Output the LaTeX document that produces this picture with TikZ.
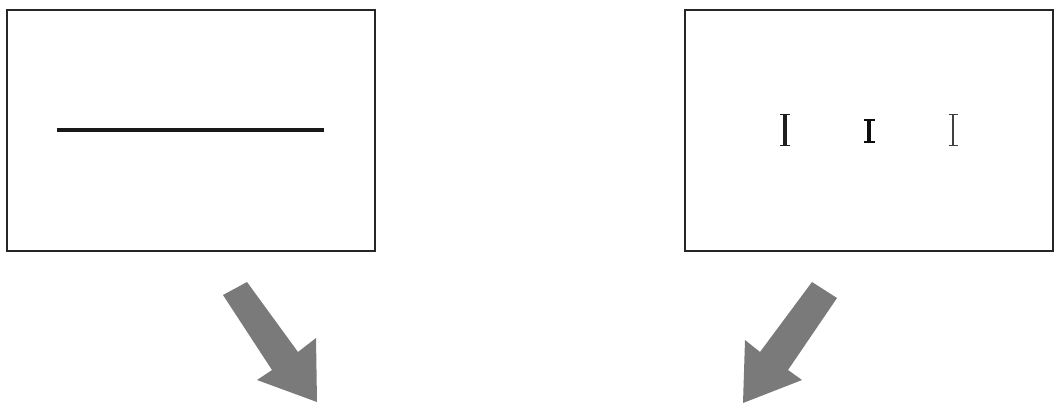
\documentclass[tikz,border=0pt]{standalone}
\begin{document}
\begin{tikzpicture}[x=1pt,y=-1pt,
  frame/.style={draw=black!85,line width=2.6pt},
  stim/.style={draw=black!90,line width=3.4pt},
  blockarrow/.style={fill=black!52,draw=none}]
\useasboundingbox (0,0) rectangle (1056,410);
% left box
\draw[frame] (7,10) rectangle (375,251);
\coordinate (la) at (57,130);
\coordinate (lb) at (324,130);
\draw[stim] (la) -- (lb);
% right box
\draw[frame] (685,10) rectangle (1053,251);
% I-bars
\draw[draw=black!88,line width=3.1pt] (785,114) -- (785,146);
\draw[draw=black!88,line width=1.6pt] (780,114.6) -- (790,114.6) (780,145.4) -- (790,145.4);
\draw[draw=black!95,line width=4.2pt] (869,119) -- (869,143);
\draw[draw=black!95,line width=2pt] (863.5,120) -- (874.5,120) (863.5,142) -- (874.5,142);
\draw[draw=black!75,line width=1.5pt] (953,114) -- (953,146);
\draw[draw=black!75,line width=1.2pt] (948.5,114.6) -- (957.5,114.6) (948.5,145.4) -- (957.5,145.4);
% arrows
\fill[blockarrow] (223,295) -- (247,282) -- (298,352) -- (316,338) -- (317,402) -- (257,380) -- (272,370) -- cycle;
\fill[blockarrow] (812,282) -- (837,298) -- (788,370) -- (802,380) -- (743,403) -- (745,340) -- (760,352) -- cycle;
\end{tikzpicture}
\end{document}
